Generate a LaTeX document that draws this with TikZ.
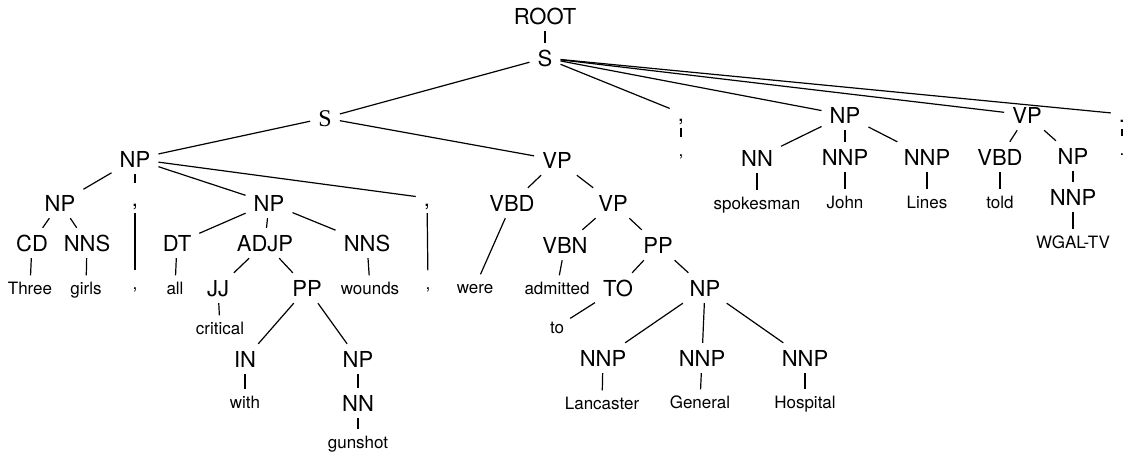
\documentclass[tikz,border=0pt]{standalone}
\usepackage{fontspec}
\setmainfont{TeX Gyre Heros}
\newfontfamily\serifS{Liberation Serif}

\begin{document}
\begin{tikzpicture}[x=1pt,y=-1pt,
  cat/.style={font=\fontsize{22}{22}\selectfont, text height=16pt, text depth=0pt,
              inner xsep=8pt, inner ysep=7pt, anchor=base},
  word/.style={font=\fontsize{17}{17}\selectfont, text height=12.5pt, text depth=0pt,
               inner xsep=6pt, inner ysep=6pt, anchor=base},
  edge/.style={line width=1.2pt}]
\useasboundingbox (0,0) rectangle (1126,455);

% top of the tree
\node[cat] (root) at (545,24) {ROOT};
\node[cat] (s0) at (545,66) {S};
\node[cat,font=\serifS\fontsize{24}{24}\selectfont] (s1) at (325,126) {S};
\node[cat] (pc1) at (681,121) {,};
\node[cat] (np5) at (845,123) {NP};
\node[cat] (vp5) at (1027,123) {VP};
\node[cat] (pstop) at (1122,122) {.};
\node[word] (w-c1) at (681,156) {,};
\node[word] (w-stop) at (1122,155) {.};

% spokesman John Lines told WGAL-TV
\node[cat] (nn5) at (757,166) {NN};
\node[cat] (nnp5a) at (845,165) {NNP};
\node[cat] (nnp5b) at (927,165) {NNP};
\node[word] (w-spokesman) at (757,209) {spokesman};
\node[word] (w-john) at (845,208) {John};
\node[word] (w-lines) at (927,208) {Lines};
\node[cat] (vbd5) at (1000,165) {VBD};
\node[cat] (np6) at (1073,164) {NP};
\node[cat] (nnp6) at (1073,205) {NNP};
\node[word] (w-told) at (1000,208) {told};
\node[word] (w-wgal) at (1073,248) {WGAL-TV};

% subject noun phrase
\node[cat] (np1) at (135,167) {NP};
\node[cat] (np2) at (60,211) {NP};
\node[cat] (pc2) at (135,206) {,};
\node[cat] (np3) at (269,211) {NP};
\node[cat] (pc3) at (427,206) {,};
\node[cat] (cd) at (32,251) {CD};
\node[cat] (nns1) at (87,251) {NNS};
\node[word] (w-three) at (30,294) {Three};
\node[word] (w-girls) at (86,294) {girls};
\node[word] (w-c2) at (135,289) {,};
\node[cat] (dt) at (177,251) {DT};
\node[cat] (adjp) at (265,251) {ADJP};
\node[cat] (nns2) at (367,251) {NNS};
\node[word] (w-all) at (175,294) {all};
\node[word] (w-wounds) at (370,294) {wounds};
\node[word] (w-c3) at (428,289) {,};
\node[cat] (jj) at (218,296) {JJ};
\node[cat] (pp1) at (307,296) {PP};
\node[word] (w-critical) at (220,334) {critical};
\node[cat] (in) at (245,367) {IN};
\node[cat] (np4) at (358,367) {NP};
\node[word] (w-with) at (245,408) {with};
\node[cat] (nn4) at (358,411) {NN};
\node[word] (w-gunshot) at (358,448) {gunshot};

% verb phrase
\node[cat] (vp1) at (557,168) {VP};
\node[cat] (vbd1) at (512,211) {VBD};
\node[cat] (vp2) at (613,211) {VP};
\node[word] (w-were) at (475,293) {were};
\node[cat] (vbn) at (565,253) {VBN};
\node[cat] (pp2) at (658,253) {PP};
\node[word] (w-admitted) at (557,294) {admitted};
\node[cat] (to) at (618,296) {TO};
\node[cat] (np7) at (705,296) {NP};
\node[word] (w-to) at (557,333) {to};
\node[cat] (nnp7a) at (603,366) {NNP};
\node[cat] (nnp7b) at (702,366) {NNP};
\node[cat] (nnp7c) at (805,366) {NNP};
\node[word] (w-lancaster) at (602,409) {Lancaster};
\node[word] (w-general) at (700,408) {General};
\node[word] (w-hospital) at (805,408) {Hospital};

% branches
\foreach \p/\c in {root/s0, s0/s1, s0/pc1, s0/np5, s0/vp5, s0/pstop,
  pc1/w-c1, pstop/w-stop,
  np5/nn5, np5/nnp5a, np5/nnp5b, nn5/w-spokesman, nnp5a/w-john, nnp5b/w-lines,
  vp5/vbd5, vp5/np6, vbd5/w-told, np6/nnp6, nnp6/w-wgal,
  s1/np1, s1/vp1,
  np1/np2, np1/pc2, np1/np3, np1/pc3,
  np2/cd, np2/nns1, cd/w-three, nns1/w-girls, pc2/w-c2, pc3/w-c3,
  np3/dt, np3/adjp, np3/nns2, dt/w-all, nns2/w-wounds,
  adjp/jj, adjp/pp1, jj/w-critical, pp1/in, pp1/np4, in/w-with, np4/nn4, nn4/w-gunshot,
  vp1/vbd1, vp1/vp2, vbd1/w-were, vp2/vbn, vp2/pp2, vbn/w-admitted,
  pp2/to, pp2/np7, to/w-to,
  np7/nnp7a, np7/nnp7b, np7/nnp7c,
  nnp7a/w-lancaster, nnp7b/w-general, nnp7c/w-hospital}
  \draw[edge] (\p) -- (\c);
\end{tikzpicture}
\end{document}
